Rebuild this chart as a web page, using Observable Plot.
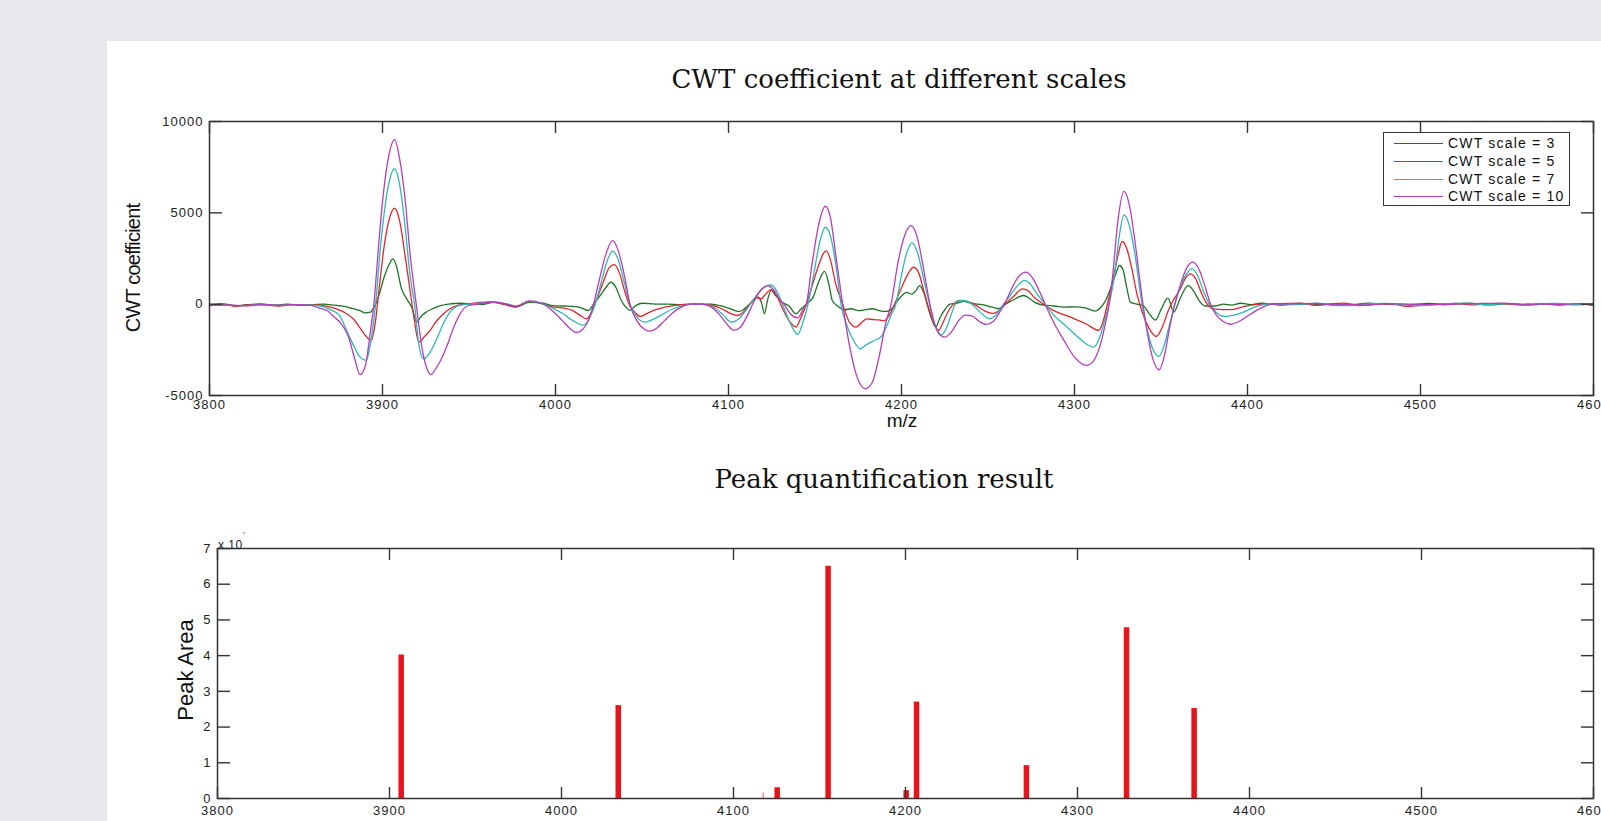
<!DOCTYPE html>
<html>
<head>
<meta charset="utf-8">
<script src="https://cdn.jsdelivr.net/npm/d3@7"></script>
<script src="https://cdn.jsdelivr.net/npm/@observablehq/plot@0.6"></script>
<style>
  html, body { margin: 0; padding: 0; }
  body { width: 1601px; height: 821px; overflow: hidden; position: relative; background: #e8e9ef; font-family: "Liberation Sans", Arial, sans-serif; }
  #panel { position: absolute; left: 107px; top: 41px; width: 1494px; height: 780px; background: #fff; }
  .abs { position: absolute; }
  .title { font-family: "DejaVu Serif", "Liberation Serif", serif; font-size: 26px; color: #111; white-space: nowrap; transform: translate(-50%, -50%); }
  .ylab { font-family: "Liberation Sans", Arial, sans-serif; color: #111; white-space: nowrap; transform: translate(-50%, -50%) rotate(-90deg); }
  svg.chart text { letter-spacing: 1px; }
  #legend { position: absolute; left: 1383px; top: 132px; width: 187px; height: 74px; border: 1px solid #333; background: #fff; box-sizing: border-box; }
  .lrow { position: absolute; left: 0; height: 18px; width: 186px; font-size: 14px; letter-spacing: 1.2px; color: #111; }
  .lrow span { position: absolute; left: 64px; top: 50%; transform: translateY(-50%); white-space: nowrap; }
  .lrow i { position: absolute; left: 10px; width: 49px; top: 50%; height: 0; border-top: 1.3px solid; }
</style>
</head>
<body>
<div id="panel"></div>
<div id="top" class="abs" style="left:0;top:0"></div>
<div id="bottom" class="abs" style="left:0;top:500px"></div>
<div class="abs title" style="left:899px;top:79px">CWT coefficient at different scales</div>
<div class="abs title" style="left:884px;top:479px">Peak quantification result</div>
<div class="abs ylab" style="left:133px;top:268px;font-size:20px;letter-spacing:-0.8px">CWT coefficient</div>
<div class="abs" style="left:902px;top:421px;transform:translate(-50%,-50%);font-size:19px;color:#111">m/z</div>
<div class="abs ylab" style="left:186px;top:670px;font-size:22px">Peak Area</div>
<div class="abs" style="left:218px;top:531px;font-size:12px;color:#222;letter-spacing:0.5px">x 10<sup style="font-size:4px;vertical-align:14px">7</sup></div>
<div id="legend"></div>
<script>
// ---------- data ----------
const mzTicks = [3800, 3900, 4000, 4100, 4200, 4300, 4400, 4500, 4600];
const cwtTicks = [-5000, 0, 5000, 10000];
const areaTicks = [0, 1, 2, 3, 4, 5, 6, 7];
const legendLabels = ["CWT scale = 3", "CWT scale = 5", "CWT scale = 7", "CWT scale = 10"];
const seriesColors = ["#1c7426", "#e0262b", "#2db7b7", "#b83cba"];

// [m/z, CWT coefficient]
const cwtScale3 = [
  [3800,-50],[3808,20],[3815,-80],[3822,-30],[3830,20],[3838,-60],[3845,0],[3852,-50],[3860,-30],[3866,0],
  [3872,-50],[3878,-120],[3883,-250],[3887,-350],[3890,-480],[3893,-440],[3895,-200],[3898,500],[3901,1500],
  [3904,2200],[3906,2480],[3908,2100],[3911,840],[3914,300],[3917,-200],[3919.8,-985],[3922,-700],[3925,-450],
  [3929,-250],[3933,-100],[3938,0],[3945,50],[3952,0],[3958,-20],[3964,100],[3970,0],[3977,-150],[3985,100],
  [3993,50],[3998,-80],[4005,-100],[4010,-120],[4015,-200],[4019,-350],[4022,0],[4026,500],[4029,900],
  [4032,1200],[4035,900],[4038,200],[4041,-200],[4043,-345],[4046,-100],[4050,50],[4058,0],[4065,0],[4072,-20],
  [4080,0],[4090,0],[4096,-100],[4101,-250],[4106,-400],[4108,-345],[4111,-100],[4114,150],[4117,380],[4119,100],
  [4120.8,-525],[4122.5,200],[4124.7,750],[4127,500],[4131,100],[4135,-100],[4139,-525],[4142,-250],[4145,0],
  [4149,400],[4152,1200],[4155.5,1800],[4158,1100],[4160,200],[4163,-100],[4167,-306],[4171,-250],[4175,-350],
  [4179,-300],[4183,-250],[4187,-350],[4191,-400],[4194,-300],[4197,100],[4200,450],[4203,650],[4206,550],
  [4208,700],[4210.5,1020],[4213,600],[4216,-400],[4219.8,-1258],[4222,-800],[4225,-300],[4228,0],[4232,50],
  [4236,150],[4240,50],[4244,0],[4248,-50],[4252,-150],[4256,-250],[4260,0],[4264,200],[4268,400],[4270.5,475],
  [4273,380],[4277,100],[4282,-50],[4288,-100],[4294,-160],[4300,-150],[4306,-200],[4312,-380],[4315,-200],
  [4318,200],[4321,900],[4324,1700],[4326,2117],[4328,1900],[4330,1000],[4332.4,100],[4336,0],[4340,-100],
  [4343,-500],[4346.8,-870],[4350,-300],[4354,330],[4357.4,-437],[4361,300],[4365.7,1020],[4369,700],[4372,200],
  [4376,-100],[4381,-100],[4386,0],[4391,-50],[4396,50],[4402,-20],[4408,50],[4414,0],[4420,-50],[4430,40],
  [4440,-30],[4450,20],[4460,-40],[4470,60],[4480,0],[4492,-30],[4505,40],[4515,-20],[4528,60],[4540,-40],
  [4550,30],[4565,-20],[4578,40],[4590,-30],[4600,20]
];
const cwtScale5 = [
  [3800,-80],[3810,-30],[3815,-120],[3820,-60],[3830,-30],[3840,-100],[3848,-20],[3855,-60],[3862,-40],[3868,-120],
  [3873,-250],[3878,-450],[3883,-800],[3887,-1300],[3890,-1700],[3893.5,-1990],[3896,-900],[3898,800],[3901,3200],
  [3904,4700],[3907,5250],[3910,4500],[3913,2700],[3916,700],[3918,-600],[3921,-2080],[3924,-1800],[3927.5,-1440],
  [3931,-950],[3935,-550],[3939,-250],[3943,-80],[3948,0],[3964,120],[3970,0],[3977,-150],[3985,150],[3993,0],
  [3998,-150],[4004,-200],[4010,-350],[4014,-600],[4018,-800],[4021,-400],[4024,300],[4028,1300],[4031,2000],
  [4034,2170],[4037,1700],[4040,700],[4043,-100],[4046,-450],[4049,-670],[4053,-500],[4058,-300],[4064,-150],
  [4070,-50],[4080,0],[4090,-60],[4096,-250],[4101,-500],[4105,-620],[4109,-400],[4113,100],[4116,350],[4119,300],
  [4121,500],[4124.7,800],[4128,450],[4131,-200],[4135,-900],[4139,-1250],[4142,-700],[4145,0],[4148,900],
  [4152,2100],[4155,2800],[4156.5,2920],[4159,2400],[4162,1100],[4166,0],[4170,-1000],[4173.7,-1258],[4177,-1000],
  [4180,-800],[4184,-850],[4187,-860],[4190,-910],[4193,-600],[4196,0],[4200,900],[4204,1700],[4207,2020],
  [4210,1700],[4213,700],[4216,-300],[4219,-1100],[4221.4,-1440],[4224,-1000],[4227,-400],[4230,0],[4234,200],
  [4238,150],[4242,0],[4246,-250],[4250,-450],[4253,-500],[4257,-300],[4261,100],[4265,450],[4270,840],[4273,750],
  [4277,350],[4282,0],[4287,-300],[4293,-550],[4300,-800],[4307,-1100],[4314,-1440],[4317,-800],[4319,0],
  [4322,1200],[4325,2600],[4327.5,3430],[4330,3100],[4333,2000],[4336,600],[4339,-400],[4343,-1300],[4347.2,-1770],
  [4351,-1200],[4354,-400],[4357,200],[4361,800],[4364,1400],[4367,1660],[4370,1400],[4373,700],[4376,100],
  [4380,-250],[4386,-300],[4392,-280],[4397,-150],[4402,-50],[4408,0],[4420,30],[4430,50],[4440,-60],[4448,0],
  [4455,60],[4465,-80],[4475,20],[4485,0],[4492,-120],[4500,-60],[4510,0],[4520,40],[4530,-40],[4545,40],
  [4555,-30],[4570,20],[4580,-50],[4592,20],[4600,-80]
];
const cwtScale7 = [
  [3800,-40],[3810,-60],[3820,-80],[3830,-20],[3840,-50],[3850,-30],[3860,-60],[3866,-150],[3870,-300],[3875,-600],
  [3880,-1600],[3884,-2400],[3887,-2900],[3890.6,-3080],[3893,-2200],[3896,0],[3899,3300],[3903,6300],[3907,7400],
  [3910,6500],[3913,4300],[3916,1500],[3918.5,0],[3921,-2200],[3923.7,-2990],[3927,-2700],[3931.4,-1890],
  [3935,-1100],[3939,-440],[3944,-80],[3950,0],[3964,100],[3972,0],[3977,-100],[3985,150],[3993,0],[3998,-200],
  [4004,-500],[4010,-900],[4016,-1150],[4020,-700],[4023,0],[4027,1400],[4030,2400],[4033,2900],[4036,2500],
  [4040,1100],[4043,0],[4047,-700],[4051.6,-985],[4056,-850],[4062,-550],[4068,-250],[4075,-50],[4080,0],
  [4087,-20],[4092,-200],[4097,-600],[4101.6,-985],[4106,-800],[4110,-350],[4114,200],[4119,800],[4124.7,1050],
  [4128,700],[4132,-200],[4136,-1100],[4140,-1660],[4143,-1000],[4146,0],[4149,1500],[4153,3500],[4156,4210],
  [4159,3700],[4162,2200],[4165,0],[4169,-1300],[4173,-2100],[4176,-2440],[4180,-2200],[4184,-2000],[4188,-1800],
  [4191,-1300],[4194,-600],[4196.8,0],[4200,1600],[4203,2800],[4206,3360],[4209,2900],[4213,1300],[4217,-300],
  [4219.5,-1200],[4222.8,-1700],[4226,-1300],[4229,-500],[4232,150],[4236,200],[4240,50],[4244,-300],[4248,-650],
  [4251,-800],[4255,-550],[4259,0],[4263,500],[4267,1000],[4271,1300],[4274,1150],[4278,600],[4283,0],[4288,-600],
  [4295,-1200],[4302,-1800],[4308,-2250],[4311,-2350],[4315,-1700],[4318,-700],[4320,0],[4323,1500],[4326,3800],
  [4328.6,4890],[4332,4200],[4335,2700],[4339,0],[4342,-1400],[4345,-2400],[4348.8,-2860],[4352,-2200],
  [4355,-1100],[4358,0],[4361,900],[4365,1700],[4368,1950],[4371,1600],[4375,600],[4378,0],[4382,-450],
  [4387,-670],[4392,-600],[4398,-420],[4403,-200],[4408,-50],[4412,0],[4428,-30],[4440,50],[4450,-60],[4458,-80],
  [4468,0],[4480,40],[4490,-30],[4500,-80],[4512,0],[4525,60],[4538,-30],[4550,30],[4562,-50],[4575,40],
  [4588,-20],[4600,20]
];
const cwtScale10 = [
  [3800,-60],[3810,-40],[3820,-90],[3830,-30],[3840,-60],[3850,-20],[3858,-50],[3863,-200],[3868,-350],
  [3872,-700],[3876,-1050],[3880,-1700],[3884,-3000],[3887,-3860],[3890,-3400],[3893,-1500],[3895,0],[3898,3500],
  [3900,5600],[3903,7800],[3907,9000],[3910,7900],[3913,5800],[3916,2700],[3919.5,0],[3923,-2500],[3926,-3600],
  [3928,-3860],[3931,-3500],[3934,-3000],[3937,-2350],[3941,-1300],[3945,-500],[3949,-100],[3955,0],[3964,120],
  [3972,0],[3977,-120],[3985,180],[3992,50],[3998,-350],[4004,-900],[4008,-1300],[4012,-1550],[4016,-1350],
  [4019,-900],[4022,0],[4025,1200],[4029,2700],[4033,3480],[4036,3000],[4040,1500],[4043,0],[4047,-900],
  [4051,-1350],[4054.5,-1480],[4058,-1350],[4063,-900],[4068,-450],[4073,-150],[4078,0],[4085,0],[4090,-150],
  [4095,-600],[4100,-1200],[4103,-1440],[4107,-1250],[4111,-600],[4115,200],[4119,800],[4122.7,1020],[4126,800],
  [4130,200],[4132,0],[4136,-550],[4140,-750],[4143,-300],[4145,0],[4148,2000],[4152,4300],[4156,5360],
  [4159,4700],[4162,2700],[4166,0],[4170,-2300],[4174,-3900],[4179,-4630],[4183,-4300],[4187,-2900],[4191,-1000],
  [4194,0],[4198,2300],[4202,3800],[4205.5,4300],[4209,3700],[4213,1800],[4217,-300],[4221,-1500],[4225,-1800],
  [4229,-1500],[4233,-900],[4237,-600],[4241,-650],[4245,-950],[4249,-1110],[4253,-950],[4257,-400],[4261,300],
  [4265,1100],[4268,1550],[4272,1750],[4276,1400],[4280,650],[4283,0],[4288,-1000],[4294,-2000],[4300,-2900],
  [4307,-3350],[4311,-3100],[4315,-2200],[4318,-1000],[4320,0],[4322,1500],[4325,4500],[4328.6,6180],[4332,5300],
  [4335,3400],[4339,400],[4342,-1500],[4345,-2900],[4349,-3590],[4352,-2800],[4355,-1300],[4358,0],[4361,1000],
  [4365,2000],[4368.4,2300],[4372,1900],[4376,800],[4378.6,0],[4382,-600],[4386,-950],[4390,-1100],[4395,-950],
  [4400,-650],[4405,-350],[4410,-120],[4414,0],[4425,20],[4440,40],[4450,-40],[4460,0],[4470,-60],[4480,30],
  [4495,0],[4510,-30],[4520,10],[4535,40],[4548,60],[4560,-40],[4570,20],[4580,-30],[4590,30],[4600,-20]
];

// peak quantification result (peak area in units of 10^7)
const peakMz   = [3906.8, 4033.0, 4117.3, 4125.4, 4155.0, 4200.4, 4206.4, 4270.3, 4328.5, 4367.8];
const peakArea = [4.02,   2.60,   0.15,   0.30,   6.50,   0.22,   2.70,   0.92,   4.78,   2.52];

// ---------- drawing ----------
const series = [cwtScale3, cwtScale5, cwtScale7, cwtScale10];
const axisColor = "#333";
const textStyle = {background: "transparent", fontFamily: "'Liberation Sans', Arial, sans-serif", fontSize: "13px", color: "#222", overflow: "visible"};

function frameAxes(yTicks, yPad, xPad) {
  return [
    Plot.frame({stroke: axisColor, strokeWidth: 1.5}),
    Plot.axisX(mzTicks, {anchor: "top", frameAnchor: "bottom", tickSize: 12, fill: "none", stroke: axisColor, strokeWidth: 1.4, label: null}),
    Plot.axisX(mzTicks, {anchor: "bottom", frameAnchor: "top", tickSize: 12, fill: "none", stroke: axisColor, strokeWidth: 1.4, label: null}),
    Plot.axisX(mzTicks, {anchor: "bottom", tickSize: 0, tickPadding: xPad, label: null, tickFormat: d => String(d)}),
    Plot.axisY(yTicks, {anchor: "right", frameAnchor: "left", tickSize: 12, fill: "none", stroke: axisColor, strokeWidth: 1.4, label: null}),
    Plot.axisY(yTicks, {anchor: "left", frameAnchor: "right", tickSize: 12, fill: "none", stroke: axisColor, strokeWidth: 1.4, label: null}),
    Plot.axisY(yTicks, {anchor: "left", tickSize: 0, tickPadding: yPad, label: null, tickFormat: d => String(d)})
  ];
}

const topChart = Plot.plot({
  width: 1640, height: 430,
  marginLeft: 209, marginRight: 47, marginTop: 121, marginBottom: 35,
  x: {domain: [3800, 4600]},
  y: {domain: [-5000, 10000]},
  style: textStyle,
  marks: [
    ...series.map((s, i) => Plot.line(s, {x: d => d[0], y: d => d[1], stroke: seriesColors[i], strokeWidth: 1.3, curve: "monotone-x"})),
    ...frameAxes(cwtTicks, 6, 4)
  ]
});
topChart.classList.add("chart");
topChart.style.maxWidth = "none";
document.getElementById("top").appendChild(topChart);

const peaks = peakMz.map((mz, i) => ({mz, area: peakArea[i]}));
const bottomChart = Plot.plot({
  width: 1640, height: 340,
  marginLeft: 217, marginRight: 47, marginTop: 48, marginBottom: 42,
  x: {domain: [3800, 4600]},
  y: {domain: [0, 7]},
  style: textStyle,
  marks: [
    Plot.ruleX(peaks, {x: "mz", y1: 0, y2: "area", stroke: "#e8141c",
      strokeWidth: d => d.area < 0.2 ? 1.5 : 5.5, strokeOpacity: d => d.area < 0.2 ? 0.5 : 1}),
    ...frameAxes(areaTicks, 6, 7)
  ]
});
bottomChart.classList.add("chart");
bottomChart.style.maxWidth = "none";
document.getElementById("bottom").appendChild(bottomChart);

// legend
const legend = document.getElementById("legend");
legendLabels.forEach((lab, i) => {
  const row = document.createElement("div");
  row.className = "lrow";
  row.style.top = (1 + i * 17.8) + "px";
  const ln = document.createElement("i");
  ln.style.borderTopColor = seriesColors[i];
  const sp = document.createElement("span");
  sp.textContent = lab;
  row.appendChild(ln); row.appendChild(sp);
  legend.appendChild(row);
});
</script>
</body>
</html>
